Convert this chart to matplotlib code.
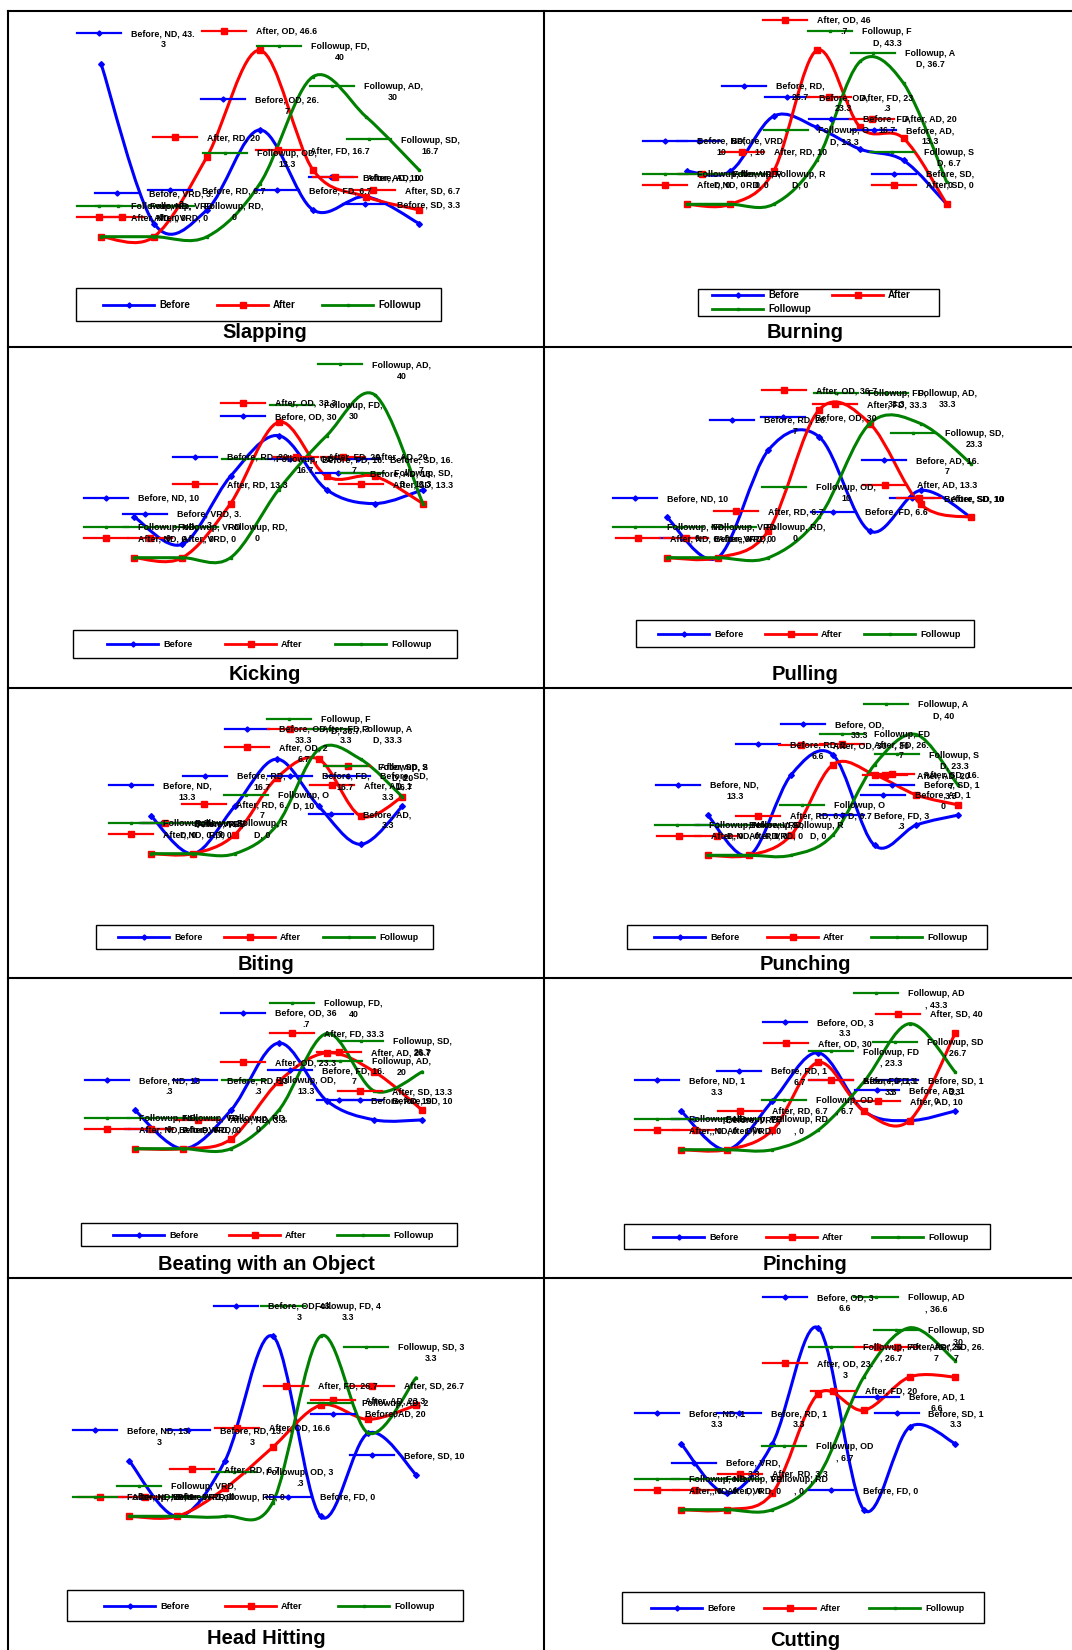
import matplotlib
matplotlib.use("Agg")
import matplotlib.pyplot as plt
from matplotlib.path import Path
from matplotlib.patches import PathPatch, Rectangle
from matplotlib.lines import Line2D
from matplotlib.font_manager import FontProperties
from matplotlib.transforms import IdentityTransform

# ---------------- data ----------------
categories = ["ND", "VRD", "RD", "OD", "FD", "AD", "SD"]
series_names = ["Before", "After", "Followup"]
panel_titles = ["Slapping", "Burning", "Kicking", "Pulling", "Biting", "Punching",
                "Beating with an Object", "Pinching", "Head Hitting", "Cutting"]

slapping_before = [43.3, 3.3, 6.7, 26.7, 6.7, 10, 3.3]
slapping_after = [0, 0, 20, 46.6, 16.7, 10, 6.7]
slapping_followup = [0, 0, 0, 13.3, 40, 30, 16.7]

burning_before = [10, 10, 26.7, 23.3, 16.7, 13.3, 0]
burning_after = [0, 0, 10, 46.7, 23.3, 20, 0]
burning_followup = [0, 0, 0, 13.3, 43.3, 36.7, 6.7]

kicking_before = [10, 3.3, 20, 30, 16.7, 13.3, 16.7]
kicking_after = [0, 0, 13.3, 33.3, 20, 20, 13.3]
kicking_followup = [0, 0, 0, 16.7, 30, 40, 13.3]

pulling_before = [10, 0, 26.7, 30, 6.6, 16.7, 10]
pulling_after = [0, 0, 6.7, 36.7, 33.3, 13.3, 10]
pulling_followup = [0, 0, 0, 10, 33.3, 33.3, 23.3]

biting_before = [13.3, 0, 16.7, 33.3, 16.7, 3.3, 16.7]
biting_after = [0, 0, 6.7, 26.7, 33.3, 13.3, 20]
biting_followup = [0, 0, 0, 10, 36.7, 33.3, 20]

punching_before = [13.3, 0, 26.6, 33.3, 3.3, 10, 13.3]
punching_after = [0, 0, 6.7, 30, 26.7, 20, 16.7]
punching_followup = [0, 0, 0, 6.7, 30, 40, 23.3]

beating_before = [13.3, 0, 13.3, 36.7, 16.7, 10, 10]
beating_after = [0, 0, 3.3, 23.3, 33.3, 26.7, 13.3]
beating_followup = [0, 0, 0, 13.3, 40, 20, 26.7]

pinching_before = [13.3, 0, 16.7, 33.3, 13.3, 10, 13.3]
pinching_after = [0, 0, 6.7, 30, 13.3, 10, 40]
pinching_followup = [0, 0, 0, 6.7, 23.3, 43.3, 26.7]

head_before = [13.3, 0, 13.3, 43.3, 0, 20, 10]
head_after = [0, 0, 6.7, 16.6, 26.7, 23.3, 26.7]
head_followup = [0, 0, 0, 3.3, 43.3, 20, 33.3]

cutting_before = [13.3, 3.3, 13.3, 36.6, 0, 16.6, 13.3]
cutting_after = [0, 0, 3.3, 23.3, 20, 26.7, 26.7]
cutting_followup = [0, 0, 0, 6.7, 26.7, 36.6, 30]

before_all = [slapping_before, burning_before, kicking_before, pulling_before, biting_before,
              punching_before, beating_before, pinching_before, head_before, cutting_before]
after_all = [slapping_after, burning_after, kicking_after, pulling_after, biting_after,
             punching_after, beating_after, pinching_after, head_after, cutting_after]
followup_all = [slapping_followup, burning_followup, kicking_followup, pulling_followup, biting_followup,
                punching_followup, beating_followup, pinching_followup, head_followup, cutting_followup]

# ---------------- layout (pixels) ----------------
FIG_W, FIG_H = 1072, 1650
# x of first category, category spacing, zero-line y, px per unit, label area left/right, label wrap width
geom = [
    (101.0, 53.0, 236.7, 4.00, 77, 460, 64.5),
    (687.0, 43.3, 204.3, 3.30, 643, 974, 54.0),
    (134.3, 48.1, 557.7, 4.07, 84, 453, 64.5),
    (667.0, 50.7, 557.7, 4.03, 613, 1004, 64.5),
    (151.0, 41.9, 853.7, 2.84, 109, 428, 52.0),
    (707.7, 41.7, 855.3, 3.02, 655, 979, 56.0),
    (135.0, 47.9, 1148.7, 2.88, 85, 452, 62.7),
    (681.0, 45.7, 1149.7, 2.91, 635, 983, 57.5),
    (129.3, 47.8, 1516.3, 4.16, 73, 464, 67.5),
    (681.0, 45.7, 1509.7, 4.97, 635, 984, 58.0),
]
legend_boxes = [(76, 288, 441, 321), (698, 289, 939, 316), (73, 630, 457, 658), (636, 620, 974, 647),
                (96, 925, 433, 949), (627, 925, 987, 949), (81, 1223, 457, 1246), (624, 1224, 990, 1249),
                (67, 1590, 463, 1621), (622, 1592, 984, 1623)]
legend_items = [
    [(103, 305), (217, 305), (322, 305)],
    [(712, 295), (832, 295), (712, 309)],
    [(107, 644), (225, 644), (335, 644)],
    [(658, 634), (765, 634), (864, 634)],
    [(118, 937), (224, 937), (323, 937)],
    [(654, 937), (767, 937), (871, 937)],
    [(113, 1235), (229, 1235), (337, 1235)],
    [(653, 1237), (766, 1237), (872, 1237)],
    [(104, 1606), (225, 1606), (338, 1606)],
    [(651, 1608), (764, 1608), (869, 1608)],
]
legend_fs = [7.0, 7.0, 6.6, 6.6, 6.4, 6.6, 6.6, 6.6, 6.6, 6.4]
title_pos = [(265, 333), (805, 333), (265, 674), (805, 675), (266, 965), (805, 965),
             (266, 1264), (805, 1265), (266, 1638), (805, 1641)]
h_borders = [11, 347, 688, 978, 1278]
v_borders = [8, 544]

colors = {"Before": "#0000FF", "After": "#FF0000", "Followup": "#008000"}
markers = {"Before": "D", "After": "s", "Followup": "s"}
series_ms = {"Before": 2.9, "After": 5.0, "Followup": 2.0}
key_ms = {"Before": 2.6, "After": 4.0, "Followup": 1.8}

FONT = "Liberation Sans"
LABEL_FS = 6.4
KEY_W, KEY_GAP, LINE_H, LABEL_RISE = 44, 10, 11, 14

plt.rcParams["font.family"] = [FONT, "DejaVu Sans"]
fig = plt.figure(figsize=(FIG_W / 100, FIG_H / 100), dpi=100)
fig.patch.set_facecolor("white")
renderer = fig.canvas.get_renderer()
label_prop = FontProperties(family=FONT, weight="bold", size=LABEL_FS)
CAP = 0.716 * LABEL_FS * 100 / 72


def text_width(s, prop=label_prop):
    w, h, d = renderer.get_text_width_height_descent(s, prop, ismath=False)
    return w


def wrap_label(s, width):
    lines, cur = [], ""
    for ch in s:
        trial = cur + ch
        if cur.strip() and text_width(trial.rstrip()) > width:
            lines.append(cur.rstrip())
            cur = ch.lstrip()
        else:
            cur = trial
    if cur.strip():
        lines.append(cur.rstrip())
    return lines


def smooth_path(vals):
    pts = list(zip(range(len(vals)), vals))
    verts = [pts[0]]
    codes = [Path.MOVETO]
    n = len(pts)
    for i in range(n - 1):
        p0 = pts[i - 1] if i > 0 else pts[i]
        p1 = pts[i]
        p2 = pts[i + 1]
        p3 = pts[i + 2] if i + 2 < n else pts[i + 1]
        c1 = (p1[0] + (p2[0] - p0[0]) / 6.0, p1[1] + (p2[1] - p0[1]) / 6.0)
        c2 = (p2[0] - (p3[0] - p1[0]) / 6.0, p2[1] - (p3[1] - p1[1]) / 6.0)
        verts += [c1, c2, p2]
        codes += [Path.CURVE4] * 3
    return Path(verts, codes)


def draw_label(ax, i, v, sname, cat, lx, rx, wrapw):
    txt = f"{sname}, {cat}, {v:g}"
    lines = wrap_label(txt, wrapw)
    tw = max(text_width(l) for l in lines)
    bw = KEY_W + KEY_GAP + tw
    px, py = ax.transData.transform((i, v))
    left = max(px - bw / 2.0, lx)
    if left + bw > rx:
        left = rx - bw
    bottom = py + LABEL_RISE
    n = len(lines)
    first_c = bottom + n * LINE_H - LINE_H / 2.0
    key = Line2D([left, left + KEY_W / 2.0, left + KEY_W], [first_c] * 3,
                 transform=IdentityTransform(), color=colors[sname], lw=1.6,
                 marker=markers[sname], markevery=[1], ms=key_ms[sname], zorder=5)
    fig.add_artist(key)
    cx = left + KEY_W + KEY_GAP + tw / 2.0
    for k, l in enumerate(lines):
        yc = first_c - k * LINE_H
        fig.text(cx, yc - CAP / 2.0, l, transform=IdentityTransform(), ha="center",
                 va="baseline", fontproperties=label_prop, color="black", zorder=6)


for p in range(len(panel_titles)):
    x0, dx, zy, s, lx, rx, wrapw = geom[p]
    top_px = zy - 50 * s
    ax = fig.add_axes([lx / FIG_W, 1 - zy / FIG_H, (rx - lx) / FIG_W, (zy - top_px) / FIG_H])
    ax.set_xlim((lx - x0) / dx, (rx - x0) / dx)
    ax.set_ylim(0, 50)
    ax.axis("off")
    data = {"Before": before_all[p], "After": after_all[p], "Followup": followup_all[p]}
    for z, sname in enumerate(series_names):
        vals = data[sname]
        patch = PathPatch(smooth_path(vals), fill=False, edgecolor=colors[sname], lw=2.2,
                          capstyle="round", joinstyle="round", clip_on=False, zorder=2 + z)
        ax.add_patch(patch)
        ax.plot(range(len(vals)), vals, ls="none", marker=markers[sname], ms=series_ms[sname],
                color=colors[sname], mec=colors[sname], clip_on=False, zorder=2.5 + z)
    for sname in series_names:
        vals = data[sname]
        for i, v in enumerate(vals):
            draw_label(ax, i, v, sname, categories[i], lx, rx, wrapw)

    # legend
    bx0, by0, bx1, by1 = legend_boxes[p]
    fig.add_artist(Rectangle((bx0, FIG_H - by1), bx1 - bx0, by1 - by0, transform=IdentityTransform(),
                             fill=False, ec="black", lw=1.0, zorder=4))
    lprop = FontProperties(family=FONT, weight="bold", size=legend_fs[p])
    lcap = 0.716 * legend_fs[p] * 100 / 72
    for (sx, sy), sname in zip(legend_items[p], series_names):
        yy = FIG_H - sy
        fig.add_artist(Line2D([sx, sx + 25.5, sx + 51], [yy] * 3, transform=IdentityTransform(),
                              color=colors[sname], lw=2.0, marker=markers[sname], markevery=[1],
                              ms=key_ms[sname], zorder=5))
        fig.text(sx + 56, yy - lcap / 2.0, sname, transform=IdentityTransform(), ha="left",
                 va="baseline", fontproperties=lprop, color="black", zorder=6)
    tx, ty = title_pos[p]
    fig.text(tx, FIG_H - ty, panel_titles[p], transform=IdentityTransform(), ha="center", va="center",
             fontsize=14.5, fontweight="bold", family=FONT, color="black", zorder=6)

# table borders
for y in h_borders:
    fig.add_artist(Line2D([v_borders[0], FIG_W], [FIG_H - y] * 2, transform=IdentityTransform(),
                          color="black", lw=1.5, zorder=7))
for x in v_borders:
    fig.add_artist(Line2D([x, x], [FIG_H - h_borders[0], 0], transform=IdentityTransform(),
                          color="black", lw=1.5, zorder=7))

fig.savefig("out.png", dpi=100, facecolor="white")
